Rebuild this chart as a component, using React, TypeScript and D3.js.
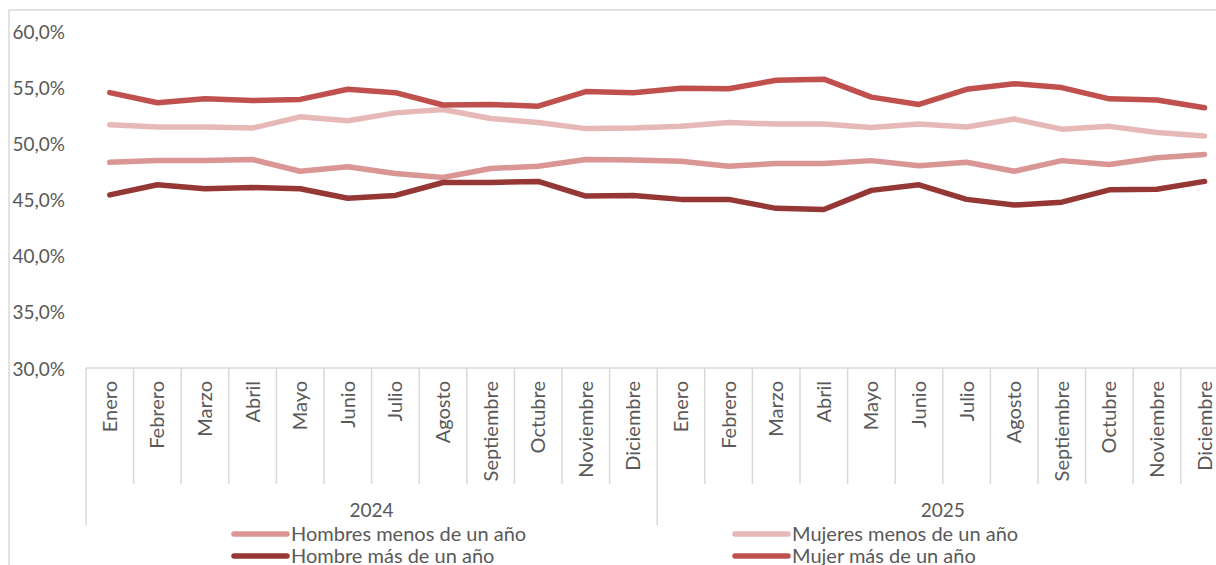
import React, { useEffect, useRef } from 'react'
import * as d3 from 'd3'

const years = ['2024', '2025']
const months = ['Enero', 'Febrero', 'Marzo', 'Abril', 'Mayo', 'Junio', 'Julio', 'Agosto', 'Septiembre', 'Octubre', 'Noviembre', 'Diciembre']
const yTicks = [30, 35, 40, 45, 50, 55, 60]

const hombresMenos = [48.4, 48.55, 48.55, 48.65, 47.6, 48.0, 47.4, 47.05, 47.85, 48.05, 48.65, 48.6, 48.5, 48.05, 48.3, 48.3, 48.55, 48.1, 48.4, 47.6, 48.55, 48.2, 48.8, 49.1]
const mujeresMenos = [51.75, 51.55, 51.55, 51.45, 52.45, 52.1, 52.8, 53.1, 52.3, 51.95, 51.4, 51.45, 51.6, 51.95, 51.8, 51.8, 51.5, 51.8, 51.55, 52.25, 51.35, 51.6, 51.05, 50.75]
const hombreMas = [45.5, 46.4, 46.05, 46.15, 46.05, 45.2, 45.45, 46.6, 46.6, 46.7, 45.4, 45.45, 45.1, 45.1, 44.3, 44.2, 45.9, 46.4, 45.1, 44.6, 44.85, 45.95, 46.0, 46.7]
const mujerMas = [54.6, 53.7, 54.05, 53.9, 54.0, 54.9, 54.6, 53.5, 53.55, 53.4, 54.7, 54.6, 55.0, 54.95, 55.7, 55.8, 54.2, 53.55, 54.9, 55.4, 55.05, 54.05, 53.95, 53.25]

const series = [
  { name: 'Hombres menos de un año', values: hombresMenos, color: '#d99694' },
  { name: 'Mujeres menos de un año', values: mujeresMenos, color: '#e6b9b8' },
  { name: 'Hombre más de un año', values: hombreMas, color: '#953735' },
  { name: 'Mujer más de un año', values: mujerMas, color: '#c0504d' },
]

const FONT = 'Lato, "Open Sans", sans-serif'
const TEXT = '#595959'
const GRID = '#d9d9d9'

export default function App() {
  const svgRef = useRef<SVGSVGElement>(null)

  useEffect(() => {
    const svg = d3.select(svgRef.current)
    svg.selectAll('*').remove()

    const width = 1216
    const height = 565
    const left = 86
    const right = 1228.4
    const axisY = 368

    const categories = years.flatMap(y => months.map(m => `${y}-${m}`))

    const x = d3.scaleBand<string>()
      .domain(categories)
      .range([left, right])

    const y = d3.scaleLinear()
      .domain([30, 60])
      .range([369, 32])

    const locale = d3.formatLocale({ decimal: ',', thousands: '.', grouping: [3], currency: ['', '€'] })
    const fmt = locale.format('.1f')

    // marco
    svg.append('path')
      .attr('d', `M9,${height} V10 H${width}`)
      .attr('fill', 'none')
      .attr('stroke', GRID)
      .attr('stroke-width', 1.5)

    // eje y
    svg.append('g')
      .selectAll('text')
      .data(yTicks)
      .join('text')
      .attr('x', 65)
      .attr('y', d => y(d))
      .attr('dy', '0.35em')
      .attr('text-anchor', 'end')
      .attr('font-family', FONT)
      .attr('font-size', 19)
      .attr('fill', TEXT)
      .text(d => `${fmt(d)}%`)

    // eje x
    const ax = svg.append('g')
    ax.append('line')
      .attr('x1', left)
      .attr('x2', right)
      .attr('y1', axisY)
      .attr('y2', axisY)
      .attr('stroke', GRID)
      .attr('stroke-width', 1.5)

    const bounds = d3.range(categories.length + 1)
    ax.selectAll('.tick')
      .data(bounds)
      .join('line')
      .attr('class', 'tick')
      .attr('x1', i => left + i * x.step())
      .attr('x2', i => left + i * x.step())
      .attr('y1', axisY)
      .attr('y2', i => (i % 12 === 0 ? 525 : 484))
      .attr('stroke', GRID)
      .attr('stroke-width', 1.5)

    ax.selectAll('.mlabel')
      .data(categories)
      .join('text')
      .attr('class', 'mlabel')
      .attr('transform', d => `translate(${(x(d) ?? 0) + x.bandwidth() / 2},381) rotate(-90)`)
      .attr('dy', '0.35em')
      .attr('text-anchor', 'end')
      .attr('font-family', FONT)
      .attr('font-size', 20)
      .attr('fill', TEXT)
      .text(d => d.split('-')[1])

    ax.selectAll('.ylabel')
      .data(years)
      .join('text')
      .attr('class', 'ylabel')
      .attr('x', (d, i) => left + (i * 12 + 6) * x.step())
      .attr('y', 510)
      .attr('dy', '0.35em')
      .attr('text-anchor', 'middle')
      .attr('font-family', FONT)
      .attr('font-size', 19)
      .attr('fill', TEXT)
      .text(d => d)

    // líneas
    const line = d3.line<number>()
      .x((d, i) => (x(categories[i]) ?? 0) + x.bandwidth() / 2)
      .y(d => y(d))

    series.forEach(s => {
      svg.append('path')
        .datum(s.values)
        .attr('fill', 'none')
        .attr('stroke', s.color)
        .attr('stroke-width', 5.5)
        .attr('stroke-linejoin', 'round')
        .attr('stroke-linecap', 'round')
        .attr('d', line)
    })

    // leyenda
    const legendPos = [
      { x: 232, y: 534 },
      { x: 733, y: 534 },
      { x: 232, y: 556 },
      { x: 733, y: 556 },
    ]
    series.forEach((s, i) => {
      const p = legendPos[i]
      const g = svg.append('g').attr('transform', `translate(${p.x},${p.y})`)
      g.append('line')
        .attr('x1', 2)
        .attr('x2', 55)
        .attr('stroke', s.color)
        .attr('stroke-width', 5.5)
        .attr('stroke-linecap', 'round')
      g.append('text')
        .attr('x', 59)
        .attr('dy', '0.35em')
        .attr('font-family', FONT)
        .attr('font-size', 20)
        .attr('fill', TEXT)
        .text(s.name)
    })
  }, [])

  return (
    <svg
      ref={svgRef}
      width={1216}
      height={565}
      style={{ position: 'absolute', left: 0, top: 0, background: '#fff' }}
    />
  )
}
